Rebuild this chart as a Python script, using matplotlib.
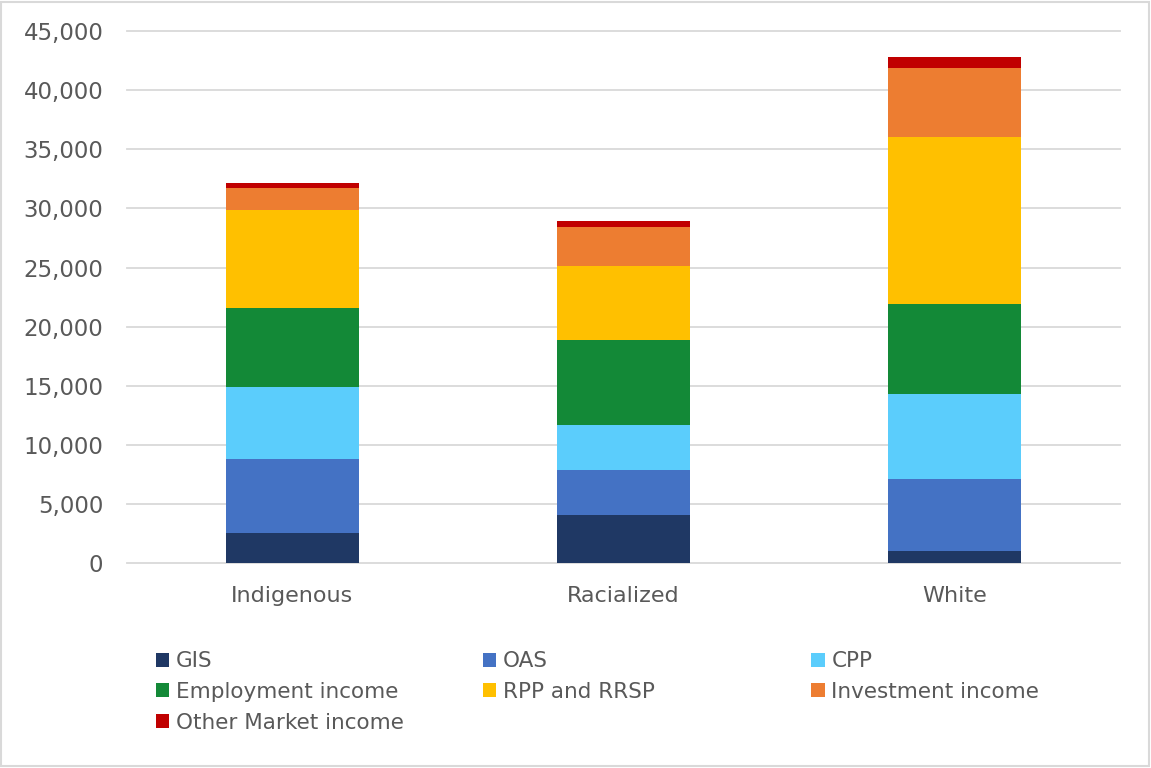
import numpy as np
import matplotlib
matplotlib.use('Agg')
import matplotlib.pyplot as plt
from matplotlib.patches import Rectangle
from matplotlib.ticker import FuncFormatter

groups = ['Indigenous', 'Racialized', 'White']
series = ['GIS', 'OAS', 'CPP', 'Employment income', 'RPP and RRSP',
          'Investment income', 'Other Market income']
gis = [2600, 4100, 1000]
oas = [6250, 3800, 6100]
cpp = [6050, 3800, 7200]
employment = [6700, 7200, 7650]
rpp_rrsp = [8300, 6200, 14100]
investment = [1800, 3300, 5850]
other_market = [450, 500, 900]
colors = ['#1F3864', '#4472C4', '#5BCDFC', '#138937', '#FFC000', '#ED7D31', '#C00000']

values = [gis, oas, cpp, employment, rpp_rrsp, investment, other_market]

plt.rcParams['font.family'] = ['DejaVu Sans']
txt = '#595959'

fig = plt.figure(figsize=(11.51, 7.68), dpi=100)
ax = fig.add_axes([0.1103, 0.2665, 0.8627, 0.6931])

x = np.arange(len(groups))
bottom = np.zeros(len(groups))
bars = []
for name, vals, c in zip(series, values, colors):
    b = ax.bar(x, vals, 0.4, bottom=bottom, color=c, label=name, zorder=3)
    bars.append(b)
    bottom += np.array(vals)

ax.set_xlim(-0.5, 2.5)
ax.set_ylim(0, 45000)
ax.set_yticks(np.arange(0, 45001, 5000))
ax.yaxis.set_major_formatter(FuncFormatter(lambda v, p: f'{int(v):,}'))
ax.set_xticks(x)
ax.set_xticklabels(groups)
ax.grid(axis='y', color='#D9D9D9', linewidth=1.3, zorder=0)
for gl in ax.get_ygridlines():
    gl.set_clip_on(False)
for s in ax.spines.values():
    s.set_visible(False)
ax.tick_params(length=0, colors=txt)
ax.tick_params(axis='x', labelsize=16, pad=16)
ax.tick_params(axis='y', labelsize=16.5, pad=17)

# legend: three columns placed at fixed x, filled row by row
columns = [[0, 3, 6], [1, 4], [2, 5]]
col_x = [0.1355, 0.4195, 0.705]
for idx, cx in zip(columns, col_x):
    fig.legend([bars[i] for i in idx], [series[i] for i in idx],
               loc='upper left', bbox_to_anchor=(cx, 0.152),
               frameon=False, fontsize=15.5, labelcolor=txt,
               handlelength=0.62, handleheight=0.62, handletextpad=0.3,
               labelspacing=0.5, borderpad=0, borderaxespad=0)

fig.patches.append(Rectangle((0.001, 0.002), 0.997, 0.996, transform=fig.transFigure,
                             fill=False, edgecolor='#D9D9D9', linewidth=1.5))

fig.savefig('out.png', dpi=100)
